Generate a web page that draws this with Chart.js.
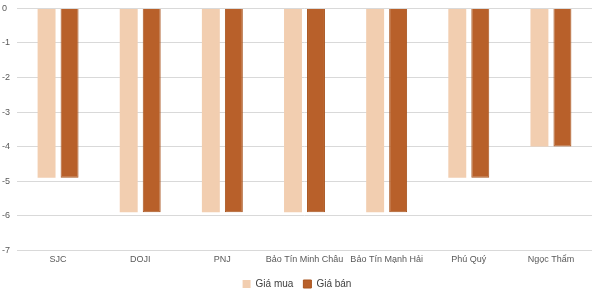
<!DOCTYPE html>
<html><head><meta charset="utf-8">
<script src="https://cdn.jsdelivr.net/npm/chart.js@4/dist/chart.umd.min.js"></script>
<style>html,body{margin:0;padding:0;background:#fff;overflow:hidden;width:600px;height:294px}#wrap{width:600px;height:302px;position:absolute;left:0;top:-3px}</style>
</head><body><div id="wrap"><canvas id="c"></canvas></div>
<script>
const categories = ["SJC","DOJI","PNJ","Bảo Tín Minh Châu","Bảo Tín Mạnh Hải","Phú Quý","Ngọc Thẩm"];
const giaMua = [-4.9,-5.9,-5.9,-5.9,-5.9,-4.9,-4.0];
const giaBan = [-4.9,-5.9,-5.9,-5.9,-5.9,-4.9,-4.0];
const seriesNames = ["Giá mua","Giá bán"];
const yTicks = [0,-1,-2,-3,-4,-5,-6,-7];

new Chart(document.getElementById('c'), {
  type: 'bar',
  data: {
    labels: categories,
    datasets: [
      {label: seriesNames[0], data: giaMua, backgroundColor: '#F2CEB0', borderColor:'#F2CEB0', borderWidth:0, barPercentage:0.78, categoryPercentage:0.56},
      {label: seriesNames[1], data: giaBan, backgroundColor: '#B8602A', borderColor:'#A9551F', borderWidth:1, barPercentage:0.78, categoryPercentage:0.56}
    ]
  },
  options: {
    responsive: true, maintainAspectRatio: false, animation: false,
    layout: {padding: {left: 2, right: 8, top: 0, bottom: 0}},
    plugins: {
      legend: {position: 'bottom', labels: {boxWidth: 8, boxHeight: 8, padding: 10, color:'#404040', font:{family:'Liberation Sans', size:10}}},
      tooltip: {enabled:false}
    },
    scales: {
      x: {
        grid: {display:false, drawTicks:false},
        border: {display:false},
        ticks: {color:'#595959', font:{family:'Liberation Sans', size:9}, padding: 4, maxRotation:0, autoSkip:false}
      },
      y: {
        min: -7, max: 0,
        afterBuildTicks: (s) => { s.ticks = yTicks.map(v => ({value: v})); },
        afterFit: (s) => { s.width = 15; },
        grid: {color:'#D9D9D9', drawTicks:false},
        border: {display:false},
        ticks: {color:'#595959', font:{family:'Liberation Sans', size:9}, padding: 6, crossAlign:'far'}
      }
    }
  }
});
</script></body></html>
